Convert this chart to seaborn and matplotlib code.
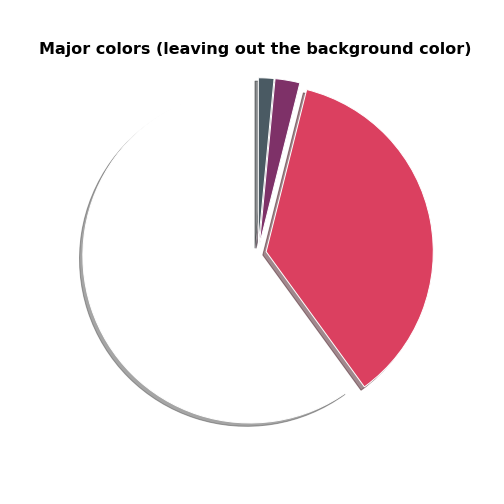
import matplotlib
matplotlib.use('Agg')
import matplotlib.pyplot as plt
import seaborn as sns

sns.set_theme(style='white')
plt.rcParams['font.family'] = ['DejaVu Sans']

# dominant colours of an image, share of pixels (background left out)
shares = [1.5, 2.4, 36.1, 60.0]
colors = ['#4a5a63', '#7e3168', '#db4060', '#ffffff']
explode = [0.05, 0.05, 0.05, 0.05]

fig = plt.figure(figsize=(7, 7), dpi=72)
ax = fig.add_axes([0.0973, 0.083, 0.829, 0.829])
ax.pie(shares, colors=colors, explode=explode, shadow=True,
       startangle=90, counterclock=False)
ax.set_title('Major colors (leaving out the background color)',
             fontsize=16, fontweight='bold', color='black',
             x=0.4928, y=0.9758, pad=0)

plt.savefig('out.png', dpi=72)
plt.close()
